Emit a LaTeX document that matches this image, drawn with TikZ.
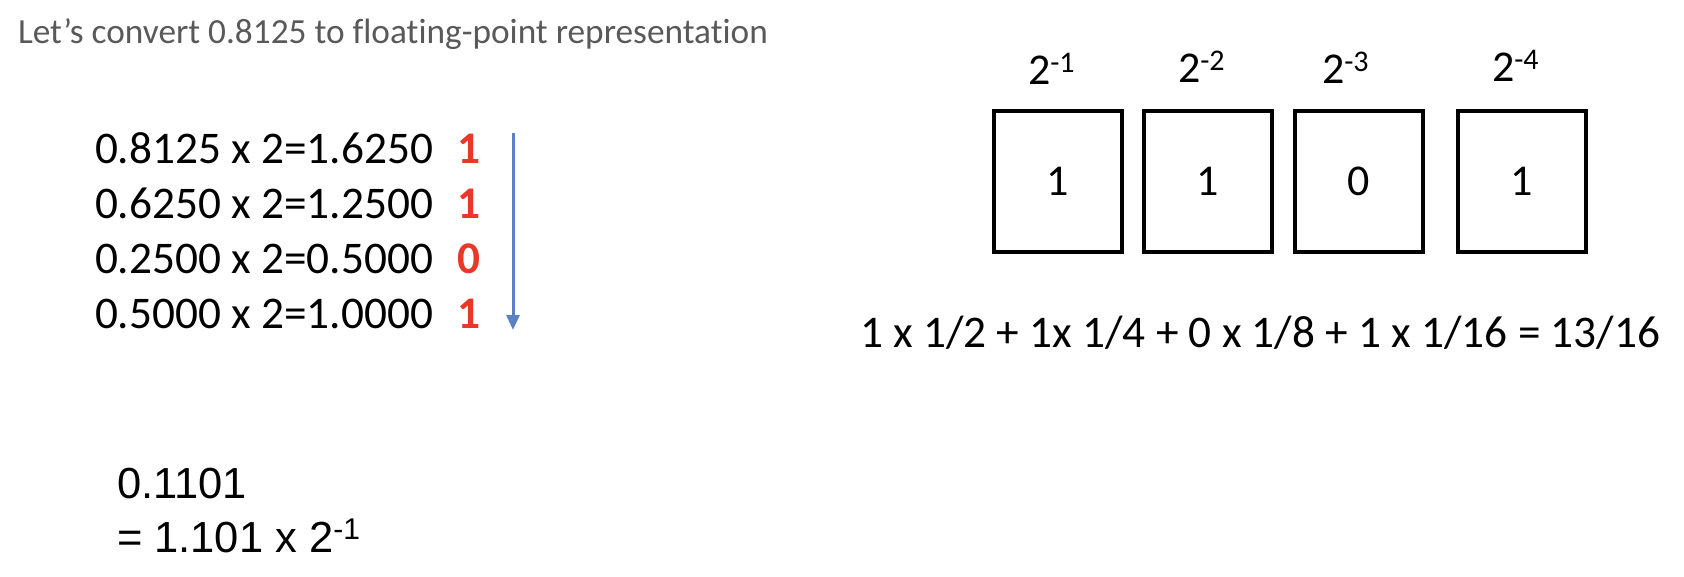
\documentclass[tikz,border=0pt]{standalone}
\usepackage{fontspec}
\setmainfont{Carlito}[Ligatures=NoCommon]
\newfontfamily\arialf{Liberation Sans}
\usetikzlibrary{arrows.meta}
\definecolor{titlegray}{HTML}{595959}
\definecolor{bitred}{HTML}{E8382A}
\definecolor{arrowblue}{HTML}{5A82C3}
\newcommand\mysupx[3]{\raisebox{#2}{\fontsize{#1}{#1}\selectfont #3}}
\tikzset{
  txt/.style={anchor=base west, inner sep=0pt, outer sep=0pt},
  rowtxt/.style={txt, font=\fontsize{45.3}{50}\selectfont},
  bit/.style={txt, font=\fontsize{45.3}{50}\selectfont\bfseries, text=bitred},
  cell/.style={draw, line width=4pt, minimum width=128pt, minimum height=141pt, inner sep=0pt, font=\fontsize{44}{50}\selectfont},
  powlbl/.style={txt, font=\fontsize{44}{50}\selectfont},
}
\begin{document}
\begin{tikzpicture}[x=1pt,y=-1pt]
\useasboundingbox (0,0) rectangle (1684,576);
% title
\node[txt, text=titlegray, font=\fontsize{35.3}{40}\selectfont] (title) at (18,43) {Let’s convert 0.8125 to floating-point representation};
% rows
\node[rowtxt] (r1) at (95,163) {0.8125 x 2=1.6250};
\node[rowtxt] (r2) at (95,218) {0.6250 x 2=1.2500};
\node[rowtxt] (r3) at (95,273) {0.2500 x 2=0.5000};
\node[rowtxt] (r4) at (95,328) {0.5000 x 2=1.0000};
\node[bit] (b1) at (457,163) {1};
\node[bit] (b2) at (457,218) {1};
\node[bit] (b3) at (457,273) {0};
\node[bit] (b4) at (457,328) {1};
% arrow
\coordinate (atop) at (513,133);
\coordinate (abot) at (513,330);
\draw[arrowblue, line width=3pt, -{Triangle[width=13pt,length=15pt]}] (atop) -- (abot);
% cells
\node[cell] (c1) at (1058,181.5) {1};
\node[cell] (c2) at (1208,181.5) {1};
\node[cell] (c3) at (1358.5,181.5) {0};
\node[cell] (c4) at (1521.5,181.5) {1};
% labels
\node[powlbl] (p1) at (1028,84) {2\mysupx{30}{12pt}{-1}};
\node[powlbl] (p2) at (1178,82) {2\mysupx{30}{12pt}{-2}};
\node[powlbl] (p3) at (1322,83) {2\mysupx{30}{12pt}{-3}};
\node[powlbl] (p4) at (1492,81) {2\mysupx{30}{12pt}{-4}};
% equation
\node[txt, font=\fontsize{45.3}{50}\selectfont] (eq) at (860,347) {1 x 1/2 + 1x 1/4 + 0 x 1/8 + 1 x 1/16 = 13/16};
% result
\node[txt, font=\arialf\fontsize{43.5}{50}\selectfont] (res1) at (117,498) {0.1101};
\node[txt, font=\arialf\fontsize{43.5}{50}\selectfont] (res2) at (117,552) {= 1.101 x 2\mysupx{30}{13pt}{-1}};
\end{tikzpicture}
\end{document}
